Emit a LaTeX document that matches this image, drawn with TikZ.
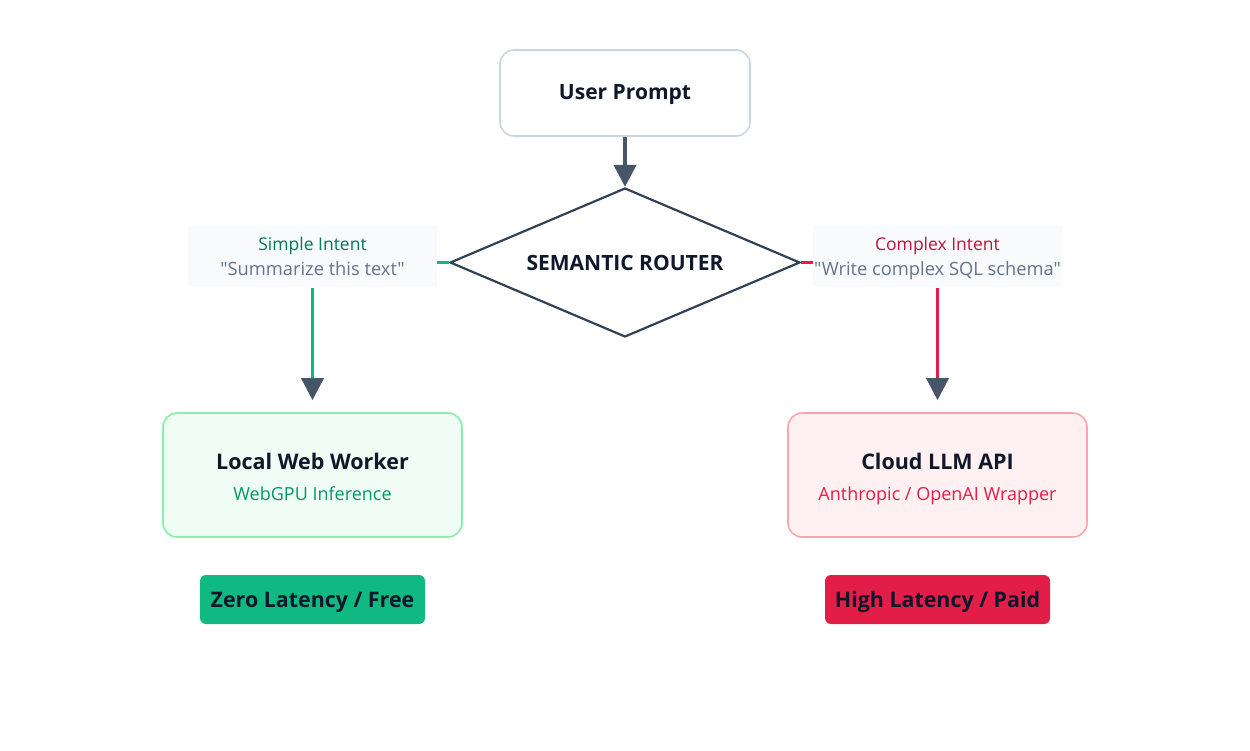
\documentclass[tikz,border=0pt]{standalone}
\usepackage{fontspec}
\setmainfont{Open Sans}[Ligatures=TeXOff]
\usetikzlibrary{arrows.meta,shapes.geometric}
\definecolor{ink}{HTML}{0F172A}
\definecolor{slate}{HTML}{475569}
\definecolor{slatedark}{HTML}{334155}
\definecolor{muted}{HTML}{64748B}
\definecolor{promptborder}{HTML}{CBD5E1}
\definecolor{lblfill}{HTML}{F8FAFC}
\definecolor{grn}{HTML}{10B981}
\definecolor{grndark}{HTML}{047857}
\definecolor{grnmid}{HTML}{059669}
\definecolor{grnfill}{HTML}{F0FDF4}
\definecolor{grnborder}{HTML}{86EFAC}
\definecolor{red}{HTML}{E11D48}
\definecolor{reddark}{HTML}{BE123C}
\definecolor{redfill}{HTML}{FFF1F2}
\definecolor{redborder}{HTML}{FDA4AF}
\newcommand{\ls}{\rule[-5pt]{0pt}{19pt}}
\newcommand{\lstop}[1]{\rule[-5pt]{0pt}{#1}}
\tikzset{
  box/.style={rounded corners=14pt, line width=1.6pt, minimum width=299pt, minimum height=124pt, align=center, inner sep=0pt},
  lbl/.style={fill=lblfill, minimum width=249pt, minimum height=61pt, align=center, inner sep=0pt},
  badge/.style={rounded corners=6pt, minimum width=225pt, minimum height=49pt, inner sep=0pt, text=ink, text height=18pt, text depth=3pt, font=\fontsize{21.4}{25}\selectfont\bfseries},
  title/.style={font=\fontsize{21}{25}\selectfont\bfseries, text=ink},
  tip/.style={-{Triangle[length=22pt,width=22pt,color=slate]}},
}
\begin{document}
\begin{tikzpicture}[x=1pt,y=-1pt]
\useasboundingbox (0,0) rectangle (1250,750);
\node[draw=promptborder, fill=white, rounded corners=14pt, line width=1.6pt, minimum width=250pt, minimum height=86pt, inner sep=0pt, text height=16pt, text depth=4pt, title] (prompt) at (625,93) {User Prompt};
\node[diamond, draw=slatedark, fill=white, line width=2.2pt, minimum width=350pt, minimum height=149pt, inner sep=0pt, aspect=2.35, title] (router) at (625,262.5) {SEMANTIC ROUTER};
\node[lbl] (simple) at (312.5,256.5) {{\fontsize{17.5}{21}\selectfont\color{grndark}\lstop{23pt}Simple Intent}\\[5pt]{\fontsize{18.3}{22}\selectfont\color{muted}\ls"Summarize this text"}};
\node[lbl] (complex) at (937.5,256.5) {{\fontsize{17.5}{21}\selectfont\color{reddark}\lstop{23pt}Complex Intent}\\[5pt]{\fontsize{18.3}{22}\selectfont\color{muted}\ls"Write complex SQL schema"}};
\node[box, draw=grnborder, fill=grnfill] (local) at (312.5,475) {{\fontsize{21.5}{25}\selectfont\bfseries\color{ink}\lstop{29pt}Local Web Worker}\\[11pt]{\fontsize{18}{22}\selectfont\color{grnmid}\ls WebGPU Inference}};
\node[box, draw=redborder, fill=redfill] (cloud) at (937.5,475) {{\fontsize{21.5}{25}\selectfont\bfseries\color{ink}\lstop{29pt}Cloud LLM API}\\[11pt]{\fontsize{18}{22}\selectfont\color{red}\ls Anthropic / OpenAI Wrapper}};
\node[badge, fill=grn] (zero) at (312.5,599.5) {Zero Latency / Free};
\node[badge, fill=red] (high) at (937.5,599.5) {High Latency / Paid};
\draw[slate, line width=4pt, tip] (prompt.south) -- (router.north);
\draw[grn, line width=3.5pt] (router.west) -- (router.west -| simple.east);
\draw[red, line width=3.5pt] (router.east) -- (router.east -| complex.west);
\draw[grn, line width=3.5pt, tip, shorten >=12pt] ([yshift=-1pt]simple.south) -- (local.north);
\draw[red, line width=3.5pt, tip, shorten >=12pt] ([yshift=-1pt]complex.south) -- (cloud.north);
\end{tikzpicture}
\end{document}
